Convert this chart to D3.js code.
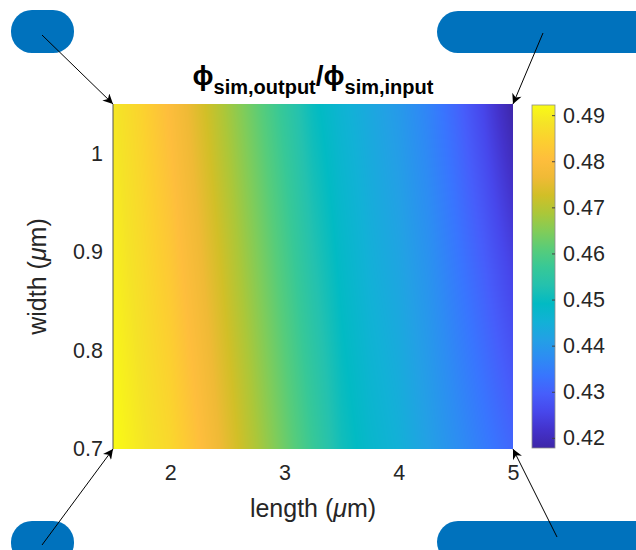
<!DOCTYPE html>
<html>
<head>
<meta charset="utf-8">
<script src="https://cdn.jsdelivr.net/npm/d3@7"></script>
<style>
  html, body { margin: 0; padding: 0; background: #fff; }
  svg { display: block; font-family: "Liberation Sans", Arial, Helvetica, sans-serif; }
</style>
</head>
<body>
<svg id="chart" width="636" height="550"></svg>
<script>
// ---------- data ----------
const lengths = [1.5, 1.75, 2.0, 2.25, 2.5, 2.75, 3.0, 3.25, 3.5, 3.75, 4.0, 4.25, 4.5, 4.75, 5.0];
const widths = [0.7, 0.875, 1.05];
const ratioW070 = [0.4922, 0.489, 0.486, 0.481, 0.475, 0.469, 0.463, 0.457, 0.451, 0.4475, 0.445, 0.4415, 0.438, 0.4345, 0.431];
const ratioW0875 = [0.4905, 0.487, 0.483, 0.4775, 0.4715, 0.4655, 0.4595, 0.4535, 0.4485, 0.445, 0.4425, 0.439, 0.4345, 0.430, 0.425];
const ratioW105 = [0.489, 0.485, 0.480, 0.474, 0.468, 0.462, 0.456, 0.450, 0.446, 0.443, 0.440, 0.436, 0.431, 0.425, 0.4178];
const ratioRows = [ratioW070, ratioW0875, ratioW105];
const xTicks = [2, 3, 4, 5];
const yTicks = [0.7, 0.8, 0.9, 1.0];
const cTicks = [0.42, 0.43, 0.44, 0.45, 0.46, 0.47, 0.48, 0.49];

// parula colormap stops
const parula = [
  [0.2422,0.1504,0.6603],[0.2647,0.1978,0.7952],[0.2803,0.2782,0.9221],[0.2760,0.3667,0.9829],
  [0.2206,0.4603,0.9973],[0.1764,0.5499,0.9520],[0.1380,0.6276,0.8973],[0.0689,0.6948,0.8394],
  [0.0067,0.7312,0.7660],[0.1408,0.7584,0.6842],[0.2161,0.7843,0.5923],[0.3406,0.8008,0.4789],
  [0.5044,0.7993,0.3480],[0.6720,0.7793,0.2227],[0.8203,0.7498,0.1535],[0.9393,0.7288,0.2100],
  [0.9956,0.7434,0.2371],[0.9892,0.8136,0.1885],[0.9610,0.8890,0.1537],[0.9769,0.9839,0.0805]
];

const svg = d3.select("#chart");
const plot = {left: 113, right: 513, top: 104, bottom: 449};
const cbar = {left: 532, right: 555, top: 105, bottom: 448};
const textColor = "#262626";
const tickFont = 21.5;
const labelFont = 25;

const x = d3.scaleLinear().domain([1.5, 5]).range([plot.left, plot.right]);
const y = d3.scaleLinear().domain([0.7, 1.05]).range([plot.bottom, plot.top]);

const allVals = ratioRows.flat();
const cExt = d3.extent(allVals);
const stopDomain = parula.map((_, i) => cExt[0] + (cExt[1] - cExt[0]) * i / (parula.length - 1));
const color = d3.scaleLinear().domain(stopDomain)
  .range(parula.map(c => d3.rgb(c[0]*255, c[1]*255, c[2]*255)))
  .interpolate(d3.interpolateRgb).clamp(true);

// ---------- heatmap (interpolated shading) ----------
const W = plot.right - plot.left, H = plot.bottom - plot.top;
const canvas = document.createElement("canvas");
canvas.width = W; canvas.height = H;
const ctx = canvas.getContext("2d");
const img = ctx.createImageData(W, H);
function interpRow(row, L) {
  let i = d3.bisectRight(lengths, L) - 1;
  i = Math.max(0, Math.min(lengths.length - 2, i));
  const t = (L - lengths[i]) / (lengths[i+1] - lengths[i]);
  return row[i] + (row[i+1] - row[i]) * t;
}
for (let py = 0; py < H; py++) {
  const wv = y.invert(plot.top + py + 0.5);
  let j = d3.bisectRight(widths, wv) - 1;
  j = Math.max(0, Math.min(widths.length - 2, j));
  const tw = (wv - widths[j]) / (widths[j+1] - widths[j]);
  for (let px = 0; px < W; px++) {
    const L = x.invert(plot.left + px + 0.5);
    const a = interpRow(ratioRows[j], L), b = interpRow(ratioRows[j+1], L);
    const c = d3.rgb(color(a + (b - a) * tw));
    const k = (py * W + px) * 4;
    img.data[k] = c.r; img.data[k+1] = c.g; img.data[k+2] = c.b; img.data[k+3] = 255;
  }
}
ctx.putImageData(img, 0, 0);
svg.append("image")
  .attr("x", plot.left).attr("y", plot.top)
  .attr("width", W).attr("height", H)
  .attr("preserveAspectRatio", "none")
  .attr("href", canvas.toDataURL());

// axis line on left
svg.append("line").attr("x1", plot.left).attr("x2", plot.left)
  .attr("y1", plot.top).attr("y2", plot.bottom)
  .attr("stroke", "#555").attr("stroke-width", 1);

// ---------- axes ----------
const xAxis = svg.append("g").attr("transform", `translate(0,${plot.bottom})`)
  .call(d3.axisBottom(x).tickValues(xTicks).tickFormat(d3.format("d")).tickSize(0).tickPadding(16));
xAxis.select(".domain").remove();
xAxis.selectAll("text").attr("font-size", tickFont).attr("fill", textColor).attr("font-family", "Liberation Sans, Arial, sans-serif");

const yAxis = svg.append("g").attr("transform", `translate(${plot.left},0)`)
  .call(d3.axisLeft(y).tickValues(yTicks).tickFormat(d => d === 1 ? "1" : d3.format(".1f")(d)).tickSize(0).tickPadding(10));
yAxis.select(".domain").remove();
yAxis.selectAll("text").attr("font-size", tickFont).attr("fill", textColor).attr("font-family", "Liberation Sans, Arial, sans-serif");

// axis labels
const xl = svg.append("text").attr("x", (plot.left + plot.right) / 2).attr("y", 517)
  .attr("text-anchor", "middle").attr("font-size", labelFont).attr("fill", textColor);
xl.append("tspan").text("length (");
xl.append("tspan").attr("font-style", "italic").text("μ");
xl.append("tspan").text("m)");

const yl = svg.append("text").attr("transform", `translate(46,${(plot.top + plot.bottom) / 2}) rotate(-90)`)
  .attr("text-anchor", "middle").attr("font-size", labelFont).attr("fill", textColor);
yl.append("tspan").text("width (");
yl.append("tspan").attr("font-style", "italic").text("μ");
yl.append("tspan").text("m)");

// title
const title = svg.append("text").attr("x", (plot.left + plot.right) / 2).attr("y", 85)
  .attr("text-anchor", "middle").attr("font-weight", "bold").attr("fill", "#000").attr("font-size", 28);
title.append("tspan").text("ϕ");
title.append("tspan").attr("font-size", 20).attr("dy", 9).text("sim,output");
title.append("tspan").attr("dy", -9).text("/ϕ");
title.append("tspan").attr("font-size", 20).attr("dy", 9).text("sim,input");

// ---------- colorbar ----------
const cy = d3.scaleLinear().domain(cExt).range([cbar.bottom, cbar.top]);
const grad = svg.append("defs").append("linearGradient").attr("id", "cgrad")
  .attr("x1", 0).attr("y1", 1).attr("x2", 0).attr("y2", 0);
stopDomain.forEach((v, i) => {
  grad.append("stop").attr("offset", i / (stopDomain.length - 1)).attr("stop-color", color(v));
});
svg.append("rect").attr("x", cbar.left).attr("y", cbar.top)
  .attr("width", cbar.right - cbar.left).attr("height", cbar.bottom - cbar.top)
  .attr("fill", "url(#cgrad)").attr("stroke", "#8c8c8c").attr("stroke-width", 0.8);
const cAxis = svg.append("g").attr("transform", `translate(${cbar.right},0)`)
  .call(d3.axisRight(cy).tickValues(cTicks).tickFormat(d3.format(".2f")).tickSize(-3).tickPadding(8));
cAxis.select(".domain").remove();
cAxis.selectAll("line").attr("stroke", "#444");
cAxis.selectAll("text").attr("font-size", tickFont).attr("fill", textColor).attr("font-family", "Liberation Sans, Arial, sans-serif");

// ---------- decorations: pills and arrows ----------
const blue = "#0072BD";
const pills = [
  {x: 11, y: 10, w: 63, h: 43},
  {x: 437, y: 11, w: 230, h: 42},
  {x: 11, y: 521, w: 63, h: 43},
  {x: 437, y: 521, w: 230, h: 42}
];
svg.selectAll("rect.pill").data(pills).join("rect").attr("class", "pill")
  .attr("x", d => d.x).attr("y", d => d.y).attr("width", d => d.w).attr("height", d => d.h)
  .attr("rx", 21).attr("ry", 21).attr("fill", blue);

svg.append("defs").append("marker").attr("id", "ah")
  .attr("viewBox", "0 0 10 10").attr("refX", 10).attr("refY", 5)
  .attr("markerWidth", 12).attr("markerHeight", 10).attr("markerUnits", "userSpaceOnUse")
  .attr("orient", "auto")
  .append("path").attr("d", "M0,0 L10,5 L0,10 L3,5 Z").attr("fill", "#000");
const arrows = [
  {x1: 42, y1: 35, x2: plot.left, y2: plot.top},
  {x1: 543, y1: 33, x2: plot.right, y2: plot.top},
  {x1: 42, y1: 545, x2: plot.left, y2: plot.bottom},
  {x1: 557, y1: 537, x2: plot.right, y2: plot.bottom}
];
svg.selectAll("line.arrow").data(arrows).join("line").attr("class", "arrow")
  .attr("x1", d => d.x1).attr("y1", d => d.y1).attr("x2", d => d.x2).attr("y2", d => d.y2)
  .attr("stroke", "#000").attr("stroke-width", 1).attr("marker-end", "url(#ah)");
</script>
</body>
</html>
